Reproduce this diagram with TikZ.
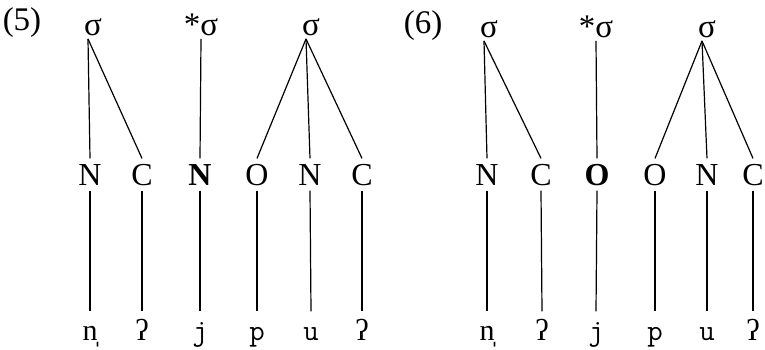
\documentclass[tikz,border=0pt]{standalone}
\usepackage{fontspec}
\setmainfont{Liberation Serif}
\newcommand{\glot}{{\rmfamily ʔ}}
\newcommand{\syln}{{\rmfamily n̩}}

\begin{document}
\begin{tikzpicture}[x=1pt, y=-1pt, line width=1.2pt,
    syl/.style={anchor=base, inner sep=3pt, font=\fontsize{33}{38}\selectfont},
    seg/.style={anchor=base, inner xsep=2pt, inner ysep=5pt, text height=21pt, text depth=0pt, font=\fontsize{32}{38}\selectfont},
    phon/.style={anchor=base, inner xsep=2pt, inner ysep=6pt, text height=22pt, text depth=0pt, font=\ttfamily\fontsize{30}{34}\selectfont}]
    \useasboundingbox (0,0) rectangle (765,349);

    % 1. Ví dụ (5)
    \node[syl] (lab5) at (22,30) {(5)};
    \node[syl] (sa) at (93,35) {σ};
    \node[syl] (sb) at (201,35) {*σ};
    \node[syl] (sc) at (311,35) {σ};
    \node[seg] (na) at (90,185) {N};
    \node[seg] (ca) at (142,185) {C};
    \node[seg] (nb) at (200,185) {\textbf{N}};
    \node[seg] (oc) at (257,185) {O};
    \node[seg] (nc) at (310,185) {N};
    \node[seg] (cc) at (362,185) {C};
    \node[phon] (pa) at (90,340) {\syln};
    \node[phon] (pb) at (142,340) {\glot};
    \node[phon] (pc) at (200,340) {j};
    \node[phon] (pd) at (257,340) {p};
    \node[phon] (pe) at (311,340) {u};
    \node[phon] (pf) at (362,340) {\glot};

    \draw ([xshift=-5]sa.south) -- (na.north);
    \draw ([xshift=-5]sa.south) -- (ca.north);
    \draw (sb.south) -- (nb.north);
    \draw ([xshift=-5]sc.south) -- (oc.north);
    \draw ([xshift=-5]sc.south) -- (nc.north);
    \draw ([xshift=-5]sc.south) -- (cc.north);
    \draw (na.south) -- (pa.north);
    \draw (ca.south) -- (pb.north);
    \draw (nb.south) -- (pc.north);
    \draw (oc.south) -- (pd.north);
    \draw (nc.south) -- (pe.north);
    \draw (cc.south) -- (pf.north);

    % 2. Ví dụ (6)
    \node[syl] (lab6) at (423,33) {(6)};
    \node[syl] (ta) at (489,37) {σ};
    \node[syl] (tb) at (596,37) {*σ};
    \node[syl] (tc) at (707,37) {σ};
    \node[seg] (ma) at (487,185) {N};
    \node[seg] (da) at (541,185) {C};
    \node[seg] (mb) at (597,185) {\textbf{O}};
    \node[seg] (md) at (655,185) {O};
    \node[seg] (mc) at (707,185) {N};
    \node[seg] (dc) at (753,185) {C};
    \node[phon] (qa) at (487,340) {\syln};
    \node[phon] (qb) at (542,340) {\glot};
    \node[phon] (qc) at (596,340) {j};
    \node[phon] (qd) at (655,340) {p};
    \node[phon] (qe) at (707,340) {u};
    \node[phon] (qf) at (753,340) {\glot};

    \draw ([xshift=-5]ta.south) -- (ma.north);
    \draw ([xshift=-5]ta.south) -- (da.north);
    \draw (tb.south) -- (mb.north);
    \draw ([xshift=-5]tc.south) -- (md.north);
    \draw ([xshift=-5]tc.south) -- (mc.north);
    \draw ([xshift=-5]tc.south) -- (dc.north);
    \draw (ma.south) -- (qa.north);
    \draw (da.south) -- (qb.north);
    \draw (mb.south) -- (qc.north);
    \draw (md.south) -- (qd.north);
    \draw (mc.south) -- (qe.north);
    \draw (dc.south) -- (qf.north);
\end{tikzpicture}
\end{document}
